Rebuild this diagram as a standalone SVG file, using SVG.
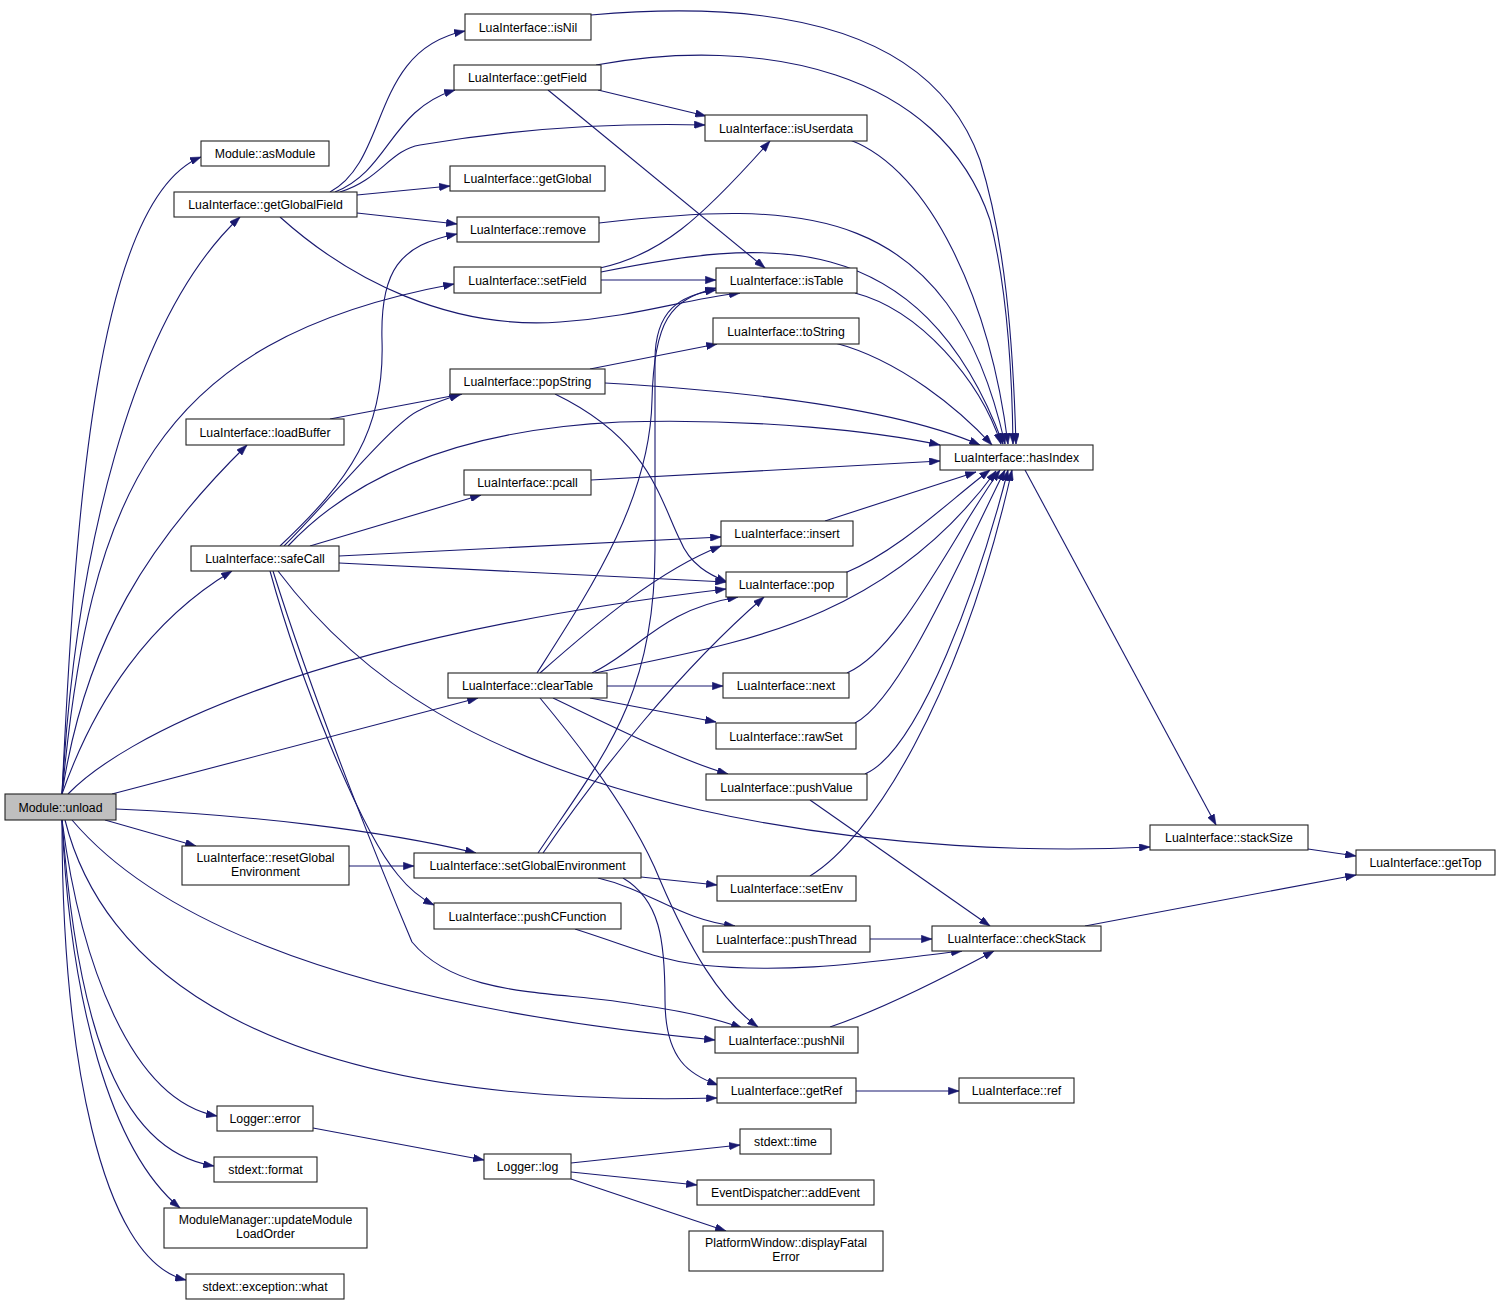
<svg xmlns="http://www.w3.org/2000/svg" width="1500" height="1306" viewBox="0 0 1500 1306">
<style>
.n rect{fill:#fff;stroke:#222;stroke-width:1.1}
.n.root rect{fill:#bfbfbf}
.n text{font-family:"Liberation Sans",Arial,sans-serif;font-size:12.3px;fill:#000;text-anchor:middle}
.e path{fill:none;stroke:#191970;stroke-width:1.1;marker-end:url(#ah)}
</style>
<defs>
<marker id="ah" viewBox="0 0 10 7" refX="10" refY="3.5" markerWidth="11" markerHeight="7.5" markerUnits="userSpaceOnUse" orient="auto">
<path d="M0,0 L10,3.5 L0,7 z" fill="#191970" stroke="#191970" stroke-width="0.5"/>
</marker>
</defs>
<rect width="1500" height="1306" fill="#fff"/>
<g id="edges" class="e">
<!-- Module::unload -->
<path d="M62,794 C75,520 95,200 201,157"/>
<path d="M62,794 C75,560 130,320 240,217"/>
<path d="M62,794 C90,500 150,340 454,284"/>
<path d="M62,794 C85,640 150,540 247,445"/>
<path d="M62,794 C95,700 150,620 232,571"/>
<path d="M68,794 C120,740 300,640 726,589"/>
<path d="M112,794 L478,698"/>
<path d="M116,809 C250,815 380,830 476,853"/>
<path d="M105,820 L196,846"/>
<path d="M72,820 C140,900 300,1000 715,1040"/>
<path d="M65,820 C100,960 250,1110 717,1098"/>
<path d="M62,820 C80,960 130,1100 217,1116"/>
<path d="M62,820 C75,1000 110,1150 214,1166"/>
<path d="M62,820 C70,1000 110,1150 180,1208"/>
<path d="M62,820 C62,1050 100,1260 186,1280"/>
<!-- getGlobalField -->
<path d="M330,192 C390,160 370,50 465,31"/>
<path d="M335,192 C390,170 390,110 455,90"/>
<path d="M340,192 C380,180 390,150 420,145 C520,128 620,123 705,125"/>
<path d="M357,195 L450,186"/>
<path d="M357,213 L457,224"/>
<path d="M280,217 C350,280 450,330 560,322 C640,316 680,300 740,293"/>
<!-- getField -->
<path d="M596,65 C760,35 940,70 990,220 C1005,280 1012,360 1013,444"/>
<path d="M598,90 L706,116"/>
<path d="M548,90 L765,268"/>
<!-- isNil, isUserdata, remove -->
<path d="M591,15 C760,0 930,20 980,160 C1005,240 1013,340 1016,444"/>
<path d="M850,140 C930,170 990,300 1008,444"/>
<path d="M599,223 C800,200 950,200 1005,444"/>
<!-- setField -->
<path d="M600,268 C660,255 700,220 770,141"/>
<path d="M601,280 L716,280"/>
<path d="M601,272 C760,240 920,220 1003,444"/>
<!-- isTable, toString -->
<path d="M855,293 C920,310 980,380 1001,444"/>
<path d="M835,343 C900,360 960,410 992,445"/>
<!-- popString -->
<path d="M590,369 L717,344"/>
<path d="M605,383 C760,392 900,410 980,445"/>
<path d="M555,394 C650,440 660,500 680,540 C690,565 710,575 727,582"/>
<!-- loadBuffer -->
<path d="M330,419 L462,394"/>
<!-- safeCall -->
<path d="M280,546 C350,480 385,430 382,340 C380,270 400,245 457,234"/>
<path d="M284,546 C330,500 395,420 420,410 C435,402 450,398 460,394"/>
<path d="M288,546 C350,480 450,430 620,422 C760,418 880,432 940,445"/>
<path d="M310,546 L481,495"/>
<path d="M339,556 L721,537"/>
<path d="M339,563 L726,582"/>
<path d="M278,571 C360,680 480,760 700,810 C880,850 1050,852 1150,847"/>
<path d="M270,571 C300,680 360,830 398,875 C410,890 420,898 434,905"/>
<path d="M273,571 C320,720 390,890 412,942 C460,1000 560,990 640,1005 C690,1012 720,1020 742,1028"/>
<!-- pcall, insert, pop -->
<path d="M591,480 L940,461"/>
<path d="M825,521 L976,472"/>
<path d="M845,573 C900,550 950,500 990,470"/>
<!-- clearTable -->
<path d="M537,673 C590,590 650,500 652,400 C654,320 670,300 716,288"/>
<path d="M540,673 C600,620 660,570 721,546"/>
<path d="M592,673 C640,650 660,610 738,597"/>
<path d="M595,673 C720,645 880,630 996,471"/>
<path d="M607,686 L723,686"/>
<path d="M590,698 L716,722"/>
<path d="M553,698 C620,730 680,760 728,774"/>
<path d="M540,698 C600,770 640,830 660,880 C690,950 720,1000 758,1027"/>
<!-- next, rawSet, pushValue -->
<path d="M847,673 C900,650 950,540 1000,470"/>
<path d="M855,723 C900,700 960,560 1005,470"/>
<path d="M865,774 C920,750 980,580 1008,470"/>
<path d="M810,800 L990,926"/>
<!-- setGlobalEnvironment -->
<path d="M538,853 C600,760 655,700 655,550 L655,360 C655,310 680,295 716,290"/>
<path d="M543,853 C600,770 680,670 764,597"/>
<path d="M641,877 L717,885"/>
<path d="M598,878 C650,890 680,920 735,926"/>
<path d="M623,878 C660,900 665,940 665,1000 C665,1060 690,1075 718,1085"/>
<!-- setEnv, pushThread, pushCFunction, pushNil, getRef -->
<path d="M810,876 C870,840 960,700 1012,470"/>
<path d="M870,939 L932,939"/>
<path d="M575,929 C640,950 660,960 700,965 C800,975 880,960 962,951"/>
<path d="M830,1027 C880,1010 940,980 994,951"/>
<path d="M856,1091 L959,1091"/>
<!-- hasIndex, stackSize, checkStack -->
<path d="M1025,470 L1216,825"/>
<path d="M1308,849 L1356,856"/>
<path d="M1085,926 L1356,875"/>
<!-- resetGlobal, Logger -->
<path d="M349,866 L414,866"/>
<path d="M313,1128 L484,1160"/>
<path d="M571,1163 L740,1145"/>
<path d="M571,1172 L697,1185"/>
<path d="M571,1179 L726,1231"/>
</g>
<g id="node-unload" class="n root"><rect x="5" y="794" width="111" height="26"/><text x="60.5" y="811.5">Module::unload</text></g>
<g id="node-asModule" class="n"><rect x="201" y="141" width="128" height="25"/><text x="265" y="158">Module::asModule</text></g>
<g id="node-getGlobalField" class="n"><rect x="174" y="192" width="183" height="25"/><text x="265.5" y="209">LuaInterface::getGlobalField</text></g>
<g id="node-loadBuffer" class="n"><rect x="186" y="419" width="158" height="26"/><text x="265" y="436.5">LuaInterface::loadBuffer</text></g>
<g id="node-safeCall" class="n"><rect x="191" y="546" width="148" height="25"/><text x="265" y="563">LuaInterface::safeCall</text></g>
<g id="node-resetGlobalEnvironment" class="n"><rect x="182" y="846" width="167" height="39"/><text x="265.5" y="862">LuaInterface::resetGlobal</text><text x="265.5" y="876">Environment</text></g>
<g id="node-loggerError" class="n"><rect x="217" y="1106" width="96" height="25"/><text x="265" y="1123">Logger::error</text></g>
<g id="node-stdextFormat" class="n"><rect x="214" y="1157" width="103" height="25"/><text x="265.5" y="1174">stdext::format</text></g>
<g id="node-updateModuleLoadOrder" class="n"><rect x="164" y="1208" width="203" height="40"/><text x="265.5" y="1224">ModuleManager::updateModule</text><text x="265.5" y="1238">LoadOrder</text></g>
<g id="node-exceptionWhat" class="n"><rect x="186" y="1274" width="158" height="25"/><text x="265" y="1291">stdext::exception::what</text></g>
<g id="node-isNil" class="n"><rect x="465" y="14" width="126" height="26"/><text x="528" y="31.5">LuaInterface::isNil</text></g>
<g id="node-getField" class="n"><rect x="454" y="65" width="147" height="25"/><text x="527.5" y="82">LuaInterface::getField</text></g>
<g id="node-getGlobal" class="n"><rect x="450" y="166" width="155" height="25"/><text x="527.5" y="183">LuaInterface::getGlobal</text></g>
<g id="node-remove" class="n"><rect x="457" y="217" width="142" height="25"/><text x="528" y="234">LuaInterface::remove</text></g>
<g id="node-setField" class="n"><rect x="454" y="267" width="147" height="26"/><text x="527.5" y="284.5">LuaInterface::setField</text></g>
<g id="node-popString" class="n"><rect x="450" y="369" width="155" height="25"/><text x="527.5" y="386">LuaInterface::popString</text></g>
<g id="node-pcall" class="n"><rect x="464" y="470" width="127" height="25"/><text x="527.5" y="487">LuaInterface::pcall</text></g>
<g id="node-clearTable" class="n"><rect x="448" y="673" width="159" height="25"/><text x="527.5" y="690">LuaInterface::clearTable</text></g>
<g id="node-setGlobalEnvironment" class="n"><rect x="414" y="853" width="227" height="25"/><text x="527.5" y="870">LuaInterface::setGlobalEnvironment</text></g>
<g id="node-pushCFunction" class="n"><rect x="434" y="903" width="187" height="26"/><text x="527.5" y="920.5">LuaInterface::pushCFunction</text></g>
<g id="node-loggerLog" class="n"><rect x="484" y="1154" width="87" height="25"/><text x="527.5" y="1171">Logger::log</text></g>
<g id="node-isUserdata" class="n"><rect x="705" y="115" width="162" height="26"/><text x="786" y="132.5">LuaInterface::isUserdata</text></g>
<g id="node-isTable" class="n"><rect x="716" y="268" width="141" height="25"/><text x="786.5" y="285">LuaInterface::isTable</text></g>
<g id="node-toString" class="n"><rect x="713" y="318" width="146" height="26"/><text x="786" y="335.5">LuaInterface::toString</text></g>
<g id="node-insert" class="n"><rect x="721" y="521" width="132" height="25"/><text x="787" y="538">LuaInterface::insert</text></g>
<g id="node-pop" class="n"><rect x="726" y="572" width="121" height="25"/><text x="786.5" y="589">LuaInterface::pop</text></g>
<g id="node-next" class="n"><rect x="723" y="673" width="126" height="25"/><text x="786" y="690">LuaInterface::next</text></g>
<g id="node-rawSet" class="n"><rect x="716" y="723" width="140" height="26"/><text x="786" y="740.5">LuaInterface::rawSet</text></g>
<g id="node-pushValue" class="n"><rect x="706" y="774" width="161" height="26"/><text x="786.5" y="791.5">LuaInterface::pushValue</text></g>
<g id="node-setEnv" class="n"><rect x="717" y="876" width="139" height="25"/><text x="786.5" y="893">LuaInterface::setEnv</text></g>
<g id="node-pushThread" class="n"><rect x="703" y="926" width="167" height="26"/><text x="786.5" y="943.5">LuaInterface::pushThread</text></g>
<g id="node-pushNil" class="n"><rect x="715" y="1027" width="143" height="26"/><text x="786.5" y="1044.5">LuaInterface::pushNil</text></g>
<g id="node-getRef" class="n"><rect x="717" y="1078" width="139" height="25"/><text x="786.5" y="1095">LuaInterface::getRef</text></g>
<g id="node-stdextTime" class="n"><rect x="740" y="1129" width="91" height="25"/><text x="785.5" y="1146">stdext::time</text></g>
<g id="node-addEvent" class="n"><rect x="697" y="1180" width="177" height="25"/><text x="785.5" y="1197">EventDispatcher::addEvent</text></g>
<g id="node-displayFatalError" class="n"><rect x="689" y="1231" width="194" height="40"/><text x="786" y="1247">PlatformWindow::displayFatal</text><text x="786" y="1261">Error</text></g>
<g id="node-hasIndex" class="n"><rect x="940" y="445" width="153" height="25"/><text x="1016.5" y="462">LuaInterface::hasIndex</text></g>
<g id="node-stackSize" class="n"><rect x="1150" y="825" width="158" height="25"/><text x="1229" y="842">LuaInterface::stackSize</text></g>
<g id="node-checkStack" class="n"><rect x="932" y="926" width="169" height="25"/><text x="1016.5" y="943">LuaInterface::checkStack</text></g>
<g id="node-ref" class="n"><rect x="959" y="1078" width="115" height="25"/><text x="1016.5" y="1095">LuaInterface::ref</text></g>
<g id="node-getTop" class="n"><rect x="1356" y="850" width="139" height="25"/><text x="1425.5" y="867">LuaInterface::getTop</text></g>
</svg>
